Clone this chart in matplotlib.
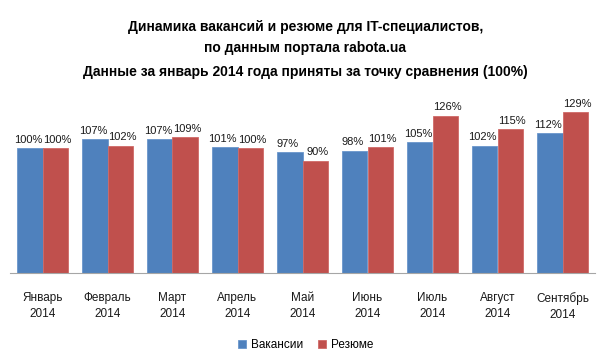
import numpy as np
import matplotlib.pyplot as plt
from matplotlib.transforms import offset_copy

months = ["Январь\n2014", "Февраль\n2014", "Март\n2014", "Апрель\n2014", "Май\n2014",
          "Июнь\n2014", "Июль\n2014", "Август\n2014", "Сентябрь\n2014"]
vacancies = [100, 107, 107, 101, 97, 98, 105, 102, 112]
resumes = [100, 102, 109, 100, 90, 101, 126, 115, 129]

plt.rcParams['font.family'] = ['Liberation Sans', 'DejaVu Sans']

fig = plt.figure(figsize=(6.11, 3.57), dpi=100)
ax = fig.add_axes([10/611, 84/357, 585/611, 175/357])

x = np.arange(len(months))
w = 0.39
b1 = ax.bar(x - w/2, vacancies, w, color='#4F81BD', edgecolor='#6A96CC', linewidth=0.6, label='Вакансии')
b2 = ax.bar(x + w/2, resumes, w, color='#C0504D', edgecolor='#D06A67', linewidth=0.6, label='Резюме')

# small sideways nudge so neighbouring labels don't collide
for bars, vals, dx in ((b1, vacancies, -2), (b2, resumes, 2)):
    tr = offset_copy(ax.transData, fig=fig, x=dx, y=0, units='dots')
    for r, v in zip(bars, vals):
        ax.text(r.get_x() + r.get_width()/2, v + 2.5, f"{v}%", ha='center', va='bottom',
                fontsize=8, color='#1a1a1a', transform=tr)

ax.set_xlim(-0.5, len(months) - 0.5)
ax.set_ylim(0, 140)
ax.set_yticks([])
ax.set_xticks(x)
ax.set_xticklabels(months, fontsize=8.5, color='#1a1a1a', linespacing=1.35)
ax.tick_params(axis='x', length=0, pad=14)
for s in ['top', 'right', 'left']:
    ax.spines[s].set_visible(False)
ax.spines['bottom'].set_color('#A6A6A6')

fig.text(0.5, 1 - 27/357, "Динамика вакансий и резюме для IT-специалистов,", ha='center', va='center',
         fontsize=10, fontweight='bold')
fig.text(0.5, 1 - 48/357, "по данным портала rabota.ua", ha='center', va='center',
         fontsize=10, fontweight='bold')
fig.text(0.5, 1 - 72/357, "Данные за январь 2014 года приняты за точку сравнения (100%)", ha='center',
         va='center', fontsize=10, fontweight='bold')

fig.legend(handles=[b1, b2], loc='center', bbox_to_anchor=(0.5, 1 - 345/357), ncol=2, frameon=False,
           fontsize=8.5, handlelength=0.7, handleheight=0.7, handletextpad=0.4, columnspacing=1.2)

fig.savefig('out.png', dpi=100)
